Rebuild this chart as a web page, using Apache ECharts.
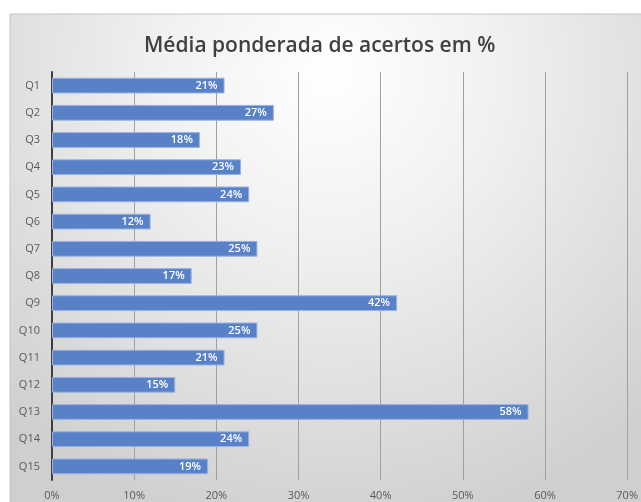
<!DOCTYPE html>
<html><head><meta charset="utf-8">
<script src="https://cdn.jsdelivr.net/npm/echarts@6/dist/echarts.min.js"></script>
<style>html,body{margin:0;padding:0;background:#fff}#c{width:641px;height:502px}</style>
</head><body><div id="c"></div>
<script>
const categories = ['Q1','Q2','Q3','Q4','Q5','Q6','Q7','Q8','Q9','Q10','Q11','Q12','Q13','Q14','Q15'];
const values = [21,27,18,23,24,12,25,17,42,25,21,15,58,24,19];
const titleText = 'Média ponderada de acertos em %';
const FONT = "'Open Sans', 'Liberation Sans', sans-serif";

const chart = echarts.init(document.getElementById('c'), null, {renderer:'canvas'});
chart.setOption({
  backgroundColor: '#ffffff',
  animation: false,
  graphic: [{
    type: 'rect', z: -10, silent: true,
    shape: {x: 10, y: 14, width: 640, height: 496},
    style: {
      fill: {type:'radial', x:0.5, y:0.12, r:0.95, global:false,
        colorStops:[{offset:0,color:'#ffffff'},{offset:0.35,color:'#f1f1f1'},{offset:1,color:'#cfcfcf'}]},
      stroke: '#c4c4c4', lineWidth: 1
    }
  }],
  title: {
    text: titleText, left: 139, top: 31,
    textStyle: {fontFamily: FONT, fontSize: 21, fontWeight: 600, color: '#404040'}
  },
  grid: {left: 52, right: 13, top: 72, bottom: 22, containLabel: false},
  xAxis: {
    type: 'value', min: 0, max: 70, interval: 10,
    axisLine: {show: false}, axisTick: {show: false},
    axisLabel: {formatter: '{value}%', color: '#595959', fontFamily: FONT, fontSize: 11, margin: 10},
    splitLine: {lineStyle: {color: '#a0a0a0', width: 1}}
  },
  yAxis: {
    type: 'category', data: categories, inverse: true,
    axisLine: {show: true, lineStyle: {color: '#404040', width: 2}},
    axisTick: {show: false},
    axisLabel: {color: '#595959', fontFamily: FONT, fontSize: 11, margin: 12}
  },
  series: [{
    type: 'bar', data: values, barCategoryGap: '42%',
    itemStyle: {color: '#5981c8', borderColor: '#9bb3e0', borderWidth: 1},
    label: {show: true, position: 'insideRight', formatter: '{c}%', color: '#ffffff',
      fontFamily: FONT, fontSize: 11, fontWeight: 600, distance: 7}
  }]
});
</script></body></html>
